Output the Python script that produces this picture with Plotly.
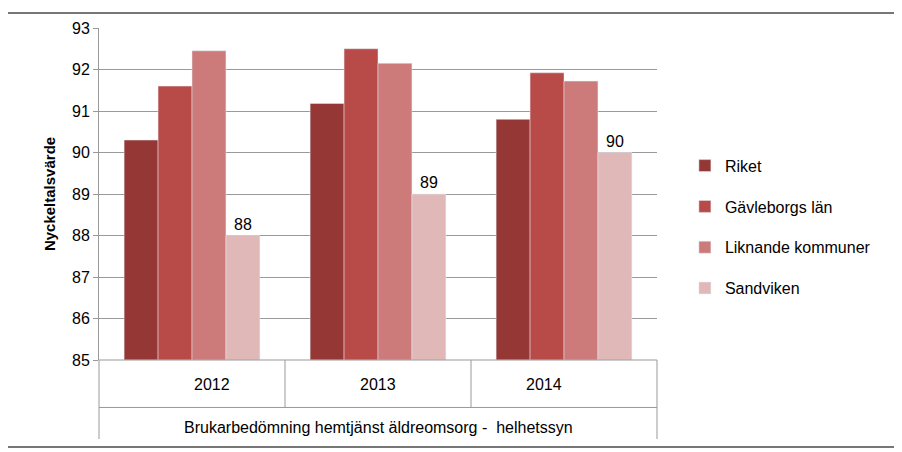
import plotly.graph_objects as go

years = ["2012", "2013", "2014"]
riket = [90.3, 91.18, 90.8]
gavleborg = [91.6, 92.5, 91.92]
liknande = [92.45, 92.15, 91.72]
sandviken = [88, 89, 90]

series = [
    ("Riket", riket, "#953735"),
    ("Gävleborgs län", gavleborg, "#B84A48"),
    ("Liknande kommuner", liknande, "#CC7B7A"),
    ("Sandviken", sandviken, "#E0B8B8"),
]

fig = go.Figure()
for name, vals, col in series:
    show_text = name == "Sandviken"
    fig.add_trace(go.Bar(
        x=years, y=[v - 85 for v in vals], base=85, name=name, legendgroup=name,
        marker_color=col, cliponaxis=False,
        text=[f"{v:g}" for v in vals] if show_text else None,
        textposition="outside", textfont=dict(size=16, color="#000"),
    ))

font = dict(family="Liberation Sans, Arial, sans-serif", size=16, color="#000")
grey = dict(color="#999", width=1)
shapes = [
    dict(type="line", xref="paper", yref="paper", x0=x, x1=x, y0=0, y1=-0.143, line=grey)
    for x in (1/3, 2/3)
] + [
    dict(type="line", xref="paper", yref="paper", x0=x, x1=x, y0=0, y1=-0.238, line=grey)
    for x in (0, 1)
] + [
    dict(type="line", xref="paper", yref="paper", x0=0, x1=1, y0=-0.143, y1=-0.143, line=grey),
    dict(type="line", xref="paper", yref="paper", x0=0, x1=1, y0=0, y1=0, line=grey),
    dict(type="rect", xref="paper", yref="paper", x0=-0.165, x1=1.435, y0=-0.262, y1=1.045,
         line=dict(color="#777", width=2)),
]
annotations = [
    dict(xref="paper", yref="paper", x=(i + 0.5) / 3, y=-0.074, text=y, showarrow=False,
         font=font, yanchor="middle")
    for i, y in enumerate(years)
] + [
    dict(xref="paper", yref="paper", x=0.5, y=-0.202,
         text="Brukarbedömning hemtjänst äldreomsorg -  helhetssyn",
         showarrow=False, font=font, yanchor="middle"),
]

fig.update_layout(
    width=902, height=452, margin=dict(l=91, r=253, t=16, b=100),
    paper_bgcolor="white", plot_bgcolor="white", font=font,
    barmode="group", bargap=0.27, bargroupgap=0,
    xaxis=dict(showticklabels=False, showline=False, showgrid=False),
    yaxis=dict(range=[85, 93], dtick=1,
               showgrid=True, gridcolor="#999", showline=True, linecolor="#999",
               ticks="outside", ticklen=5, tickcolor="#999",
               title=dict(text="<b>Nyckeltalsvärde</b>", font=dict(size=15), standoff=12)),
    legend=dict(x=1.05, y=0.4, xanchor="left", yanchor="middle",
                font=dict(size=16), itemwidth=30, tracegroupgap=17),
    shapes=shapes, annotations=annotations,
)

fig.write_html("out.html")
